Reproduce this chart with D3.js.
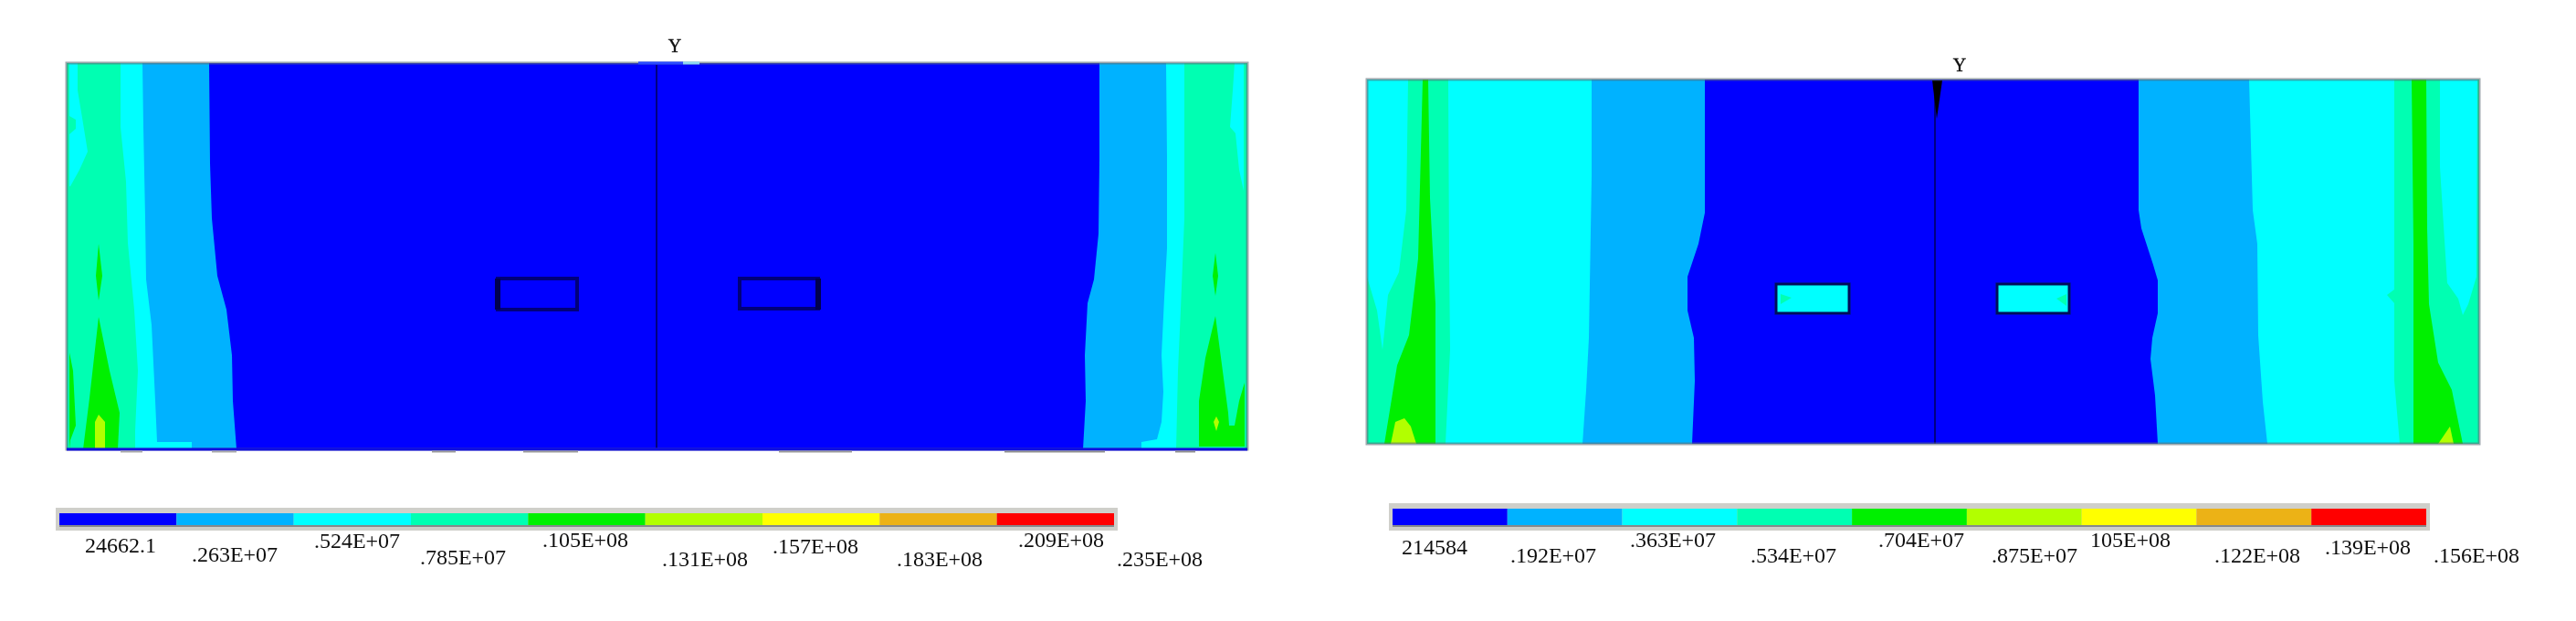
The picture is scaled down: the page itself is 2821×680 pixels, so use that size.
<!DOCTYPE html>
<html>
<head>
<meta charset="utf-8">
<style>
    html, body { margin: 0; padding: 0; background: #fff; }
    svg { display: block; }
    text { font-family: "Liberation Serif", serif; fill: #111; }
</style>
<script src="https://cdnjs.cloudflare.com/ajax/libs/d3/7.8.5/d3.min.js"></script>
</head>
<body>
<script>
// Contour levels, low to high
const levelColors = ['#0000ff', '#00b2ff', '#00ffff', '#00ffb2', '#00f000', '#b2ff00', '#ffff00', '#ecb212', '#ff0000'];
const levelsA = ['24662.1', '.263E+07', '.524E+07', '.785E+07', '.105E+08', '.131E+08', '.157E+08', '.183E+08', '.209E+08', '.235E+08'];
const levelsB = ['214584', '.192E+07', '.363E+07', '.534E+07', '.704E+07', '.875E+07', '105E+08', '.122E+08', '.139E+08', '.156E+08'];

// Contours, [along span, down from top] in model units
// Panel A, left side
const aLeftBlue = [[156, 0], [157, 110], [159, 170], [165, 233], [175, 270], [181, 320], [182, 370], [186, 423]];
const aLeftCyan = [[83, 0], [84, 70], [86, 170], [87, 237], [93, 287], [97, 370], [99, 415], [137, 415], [137, 423]];
const aLeftSpring = [[59, 0], [59, 70], [65, 130], [67, 197], [74, 270], [78, 337], [75, 403], [75, 423]];
const aLeftCyanSliver = [[3, 0], [12, 0], [12, 30], [17, 60], [23, 97], [14, 117], [4, 135], [3, 135]];
const aLeftSpringNotch = [[3, 58], [10, 62], [10, 72], [3, 78]];
const aLeftGreenEdge = [[3, 317], [7, 337], [10, 397], [4, 413], [3, 423]];
const aLeftGreenSliver = [[35, 198], [39, 233], [35, 260], [32, 233]];
const aLeftGreen = [[35, 278], [47, 337], [58, 383], [56, 423], [18, 423], [25, 367]];
const aLeftLime = [[35, 385], [42, 393], [42, 423], [31, 423], [31, 393]];
// Panel A, right side
const aRightBlue = [[1131, 0], [1131, 105], [1130, 187], [1125, 237], [1118, 263], [1115, 320], [1116, 370], [1113, 423]];
const aRightCyan = [[1204, 0], [1205, 103], [1205, 203], [1202, 257], [1199, 320], [1201, 360], [1199, 393], [1194, 412], [1177, 415], [1177, 423]];
const aRightSpring = [[1224, 0], [1224, 170], [1220, 270], [1217, 337], [1215, 423]];
const aRightCyanSliver = [[1279, 0], [1289, 0], [1289, 140], [1284, 117], [1280, 77], [1274, 70], [1277, 30]];
const aRightGreenSliver = [[1258, 208], [1261, 233], [1258, 255], [1255, 233]];
const aRightGreen = [[1258, 277], [1272, 383], [1273, 397], [1279, 397], [1284, 370], [1290, 350], [1290, 420], [1240, 420], [1240, 370], [1247, 323]];
const aRightLime = [[1259, 387], [1262, 393], [1259, 403], [1256, 393]];
// Panel B, left side
const bLeftBlue = [[370, 0], [370, 146], [363, 180], [351, 216], [351, 253], [358, 283], [359, 330], [356, 399]];
const bLeftCyan = [[246, 0], [246, 106], [243, 283], [240, 340], [236, 399]];
const bLeftSpring = [[89, 0], [90, 196], [91, 296], [86, 399]];
const bLeftCyanSliver = [[0, 0], [45, 0], [43, 143], [35, 211], [23, 236], [17, 296], [11, 253], [0, 216]];
const bLeftGreen = [[61, 0], [67, 0], [69, 130], [75, 246], [75, 399], [19, 399], [33, 313], [46, 280], [56, 196]];
const bLeftLime = [[26, 399], [31, 375], [41, 371], [48, 380], [54, 399]];
// Panel B, right side
const bRightBlue = [[845, 0], [845, 143], [848, 163], [861, 203], [866, 220], [866, 256], [860, 283], [858, 306], [863, 346], [866, 399]];
const bRightCyan = [[966, 0], [970, 143], [975, 180], [976, 280], [981, 353], [986, 399]];
const bRightSpring = [[1125, 0], [1125, 230], [1117, 236], [1125, 245], [1125, 330], [1131, 399]];
const bRightCyanSliver = [[1175, 0], [1216, 0], [1215, 216], [1206, 246], [1200, 258], [1195, 240], [1183, 223], [1180, 176], [1175, 96]];
const bRightGreen = [[1144, 0], [1160, 0], [1161, 163], [1163, 246], [1173, 310], [1188, 340], [1200, 399], [1146, 399], [1146, 180]];
const bRightLime = [[1173, 399], [1186, 380], [1190, 399]];
// Openings and centre line
const aOpenings = [[472, 236, 87, 34], [737, 236, 86, 33]];
const bOpenings = [[448, 224, 80, 32], [690, 224, 79, 32]];
const bOpeningGreen = [[[453, 235], [465, 239], [453, 246]], [[766, 235], [755, 240], [766, 248]]];
const bCentreWedge = [[619, 1], [630, 1], [624, 43]];
// Stray segments along the edges of panel A: [from, to, colour]
const aTopEdge = [[626, 675, '#2a4cff'], [675, 693, '#8fd8f0']];
const aBottomEdge = [[59, 83, '#a9a9a9'], [159, 186, '#a9a9a9'], [400, 426, '#9a9a9a'], [500, 560, '#9a9a9a'], [780, 860, '#9a9a9a'], [1027, 1137, '#8f8f8f'], [1214, 1236, '#8f8f8f']];

// Page layout
const W = 2821, H = 680;
const panelA = { x0: 73, x1: 1366, y0: 69, y1: 492, span: 1293, depth: 423, centre: 646, yLabel: [739, 57] };
const panelB = { x0: 1497, x1: 2715, y0: 87, y1: 486, span: 1218, depth: 399, centre: 622, yLabel: [2146, 78] };
const legendA = { x0: 65, x1: 1220, y0: 562, y1: 575, labelX: [132, 257, 391, 507, 641, 772, 893, 1029, 1162, 1270], labelY: [605, 615, 600, 618, 599, 620, 606, 620, 599, 620] };
const legendB = { x0: 1525, x1: 2657, y0: 557, y1: 575, labelX: [1571, 1701, 1832, 1964, 2104, 2228, 2333, 2472, 2593, 2712], labelY: [607, 616, 599, 616, 599, 616, 599, 616, 607, 616] };

const svg = d3.select('body')
    .append('svg')
    .attr('width', W)
    .attr('height', H);

// The source is a soft, upscaled bitmap
svg.append('defs')
    .append('filter')
    .attr('id', 'soft')
    .attr('filterUnits', 'userSpaceOnUse')
    .attr('x', 0).attr('y', 0).attr('width', W).attr('height', H)
    .append('feGaussianBlur')
    .attr('stdDeviation', 0.7);

const root = svg.append('g').attr('filter', 'url(#soft)');

function drawPanel(p, layers, openings) {
    const x = d3.scaleLinear().domain([0, p.span]).range([p.x0, p.x1]);
    const y = d3.scaleLinear().domain([0, p.depth]).range([p.y0, p.y1]);
    const line = d3.line().x(d => x(d[0])).y(d => y(d[1]));

    const group = root.append('g');

    // Lowest level covers the whole panel
    group.append('rect')
        .attr('x', x(0)).attr('y', y(0))
        .attr('width', x(p.span) - x(0))
        .attr('height', y(p.depth) - y(0))
        .attr('fill', levelColors[0]);

    group.selectAll('path.band')
        .data(layers)
        .enter()
        .append('path')
        .attr('class', 'band')
        .attr('d', d => line(d.points) + 'Z')
        .attr('fill', d => levelColors[d.level]);

    // Centre line
    group.append('line')
        .attr('x1', x(p.centre)).attr('x2', x(p.centre))
        .attr('y1', y(2)).attr('y2', y(p.depth))
        .attr('stroke', '#000080')
        .attr('stroke-width', 2);

    openings(group, x, y, line);

    // Frame
    group.append('rect')
        .attr('x', x(0)).attr('y', y(0))
        .attr('width', x(p.span) - x(0))
        .attr('height', y(p.depth) - y(0))
        .attr('fill', 'none')
        .attr('stroke', '#5f6f78')
        .attr('stroke-opacity', 0.6)
        .attr('stroke-width', 3);

    root.append('text')
        .attr('x', p.yLabel[0])
        .attr('y', p.yLabel[1])
        .attr('text-anchor', 'middle')
        .attr('font-size', 20)
        .attr('stroke', '#111')
        .attr('stroke-width', 0.4)
        .text('Y');

    return { x, y };
}

// Closes a contour against the left or right edge of a panel
function toEdge(contour, edge) {
    const first = contour[0], last = contour[contour.length - 1];
    return contour.concat([[edge, last[1]], [edge, first[1]]]);
}

const layersA = [
    { level: 1, points: toEdge(aLeftBlue, 0) },
    { level: 2, points: toEdge(aLeftCyan, 0) },
    { level: 3, points: toEdge(aLeftSpring, 0) },
    { level: 2, points: aLeftCyanSliver },
    { level: 3, points: aLeftSpringNotch },
    { level: 4, points: aLeftGreenEdge },
    { level: 4, points: aLeftGreenSliver },
    { level: 4, points: aLeftGreen },
    { level: 5, points: aLeftLime },
    { level: 1, points: toEdge(aRightBlue, panelA.span) },
    { level: 2, points: toEdge(aRightCyan, panelA.span) },
    { level: 3, points: toEdge(aRightSpring, panelA.span) },
    { level: 2, points: aRightCyanSliver },
    { level: 4, points: aRightGreenSliver },
    { level: 4, points: aRightGreen },
    { level: 5, points: aRightLime }
];

const layersB = [
    { level: 1, points: toEdge(bLeftBlue, 0) },
    { level: 2, points: toEdge(bLeftCyan, 0) },
    { level: 3, points: toEdge(bLeftSpring, 0) },
    { level: 2, points: bLeftCyanSliver },
    { level: 4, points: bLeftGreen },
    { level: 5, points: bLeftLime },
    { level: 1, points: toEdge(bRightBlue, panelB.span) },
    { level: 2, points: toEdge(bRightCyan, panelB.span) },
    { level: 3, points: toEdge(bRightSpring, panelB.span) },
    { level: 2, points: bRightCyanSliver },
    { level: 4, points: bRightGreen },
    { level: 5, points: bRightLime }
];

const scalesA = drawPanel(panelA, layersA, (group, x, y) => {
    group.selectAll('rect.opening')
        .data(aOpenings)
        .enter()
        .append('rect')
        .attr('class', 'opening')
        .attr('x', d => x(d[0])).attr('y', d => y(d[1]))
        .attr('width', d => x(d[2]) - x(0))
        .attr('height', d => y(d[3]) - y(0))
        .attr('fill', levelColors[0])
        .attr('stroke', '#00007a')
        .attr('stroke-width', 4);

    // The outer side of each opening is heavier
    group.selectAll('line.heavy')
        .data([aOpenings[0][0], aOpenings[1][0] + aOpenings[1][2]])
        .enter()
        .append('line')
        .attr('class', 'heavy')
        .attr('x1', d => x(d)).attr('x2', d => x(d))
        .attr('y1', y(aOpenings[0][1])).attr('y2', y(aOpenings[0][1] + aOpenings[0][3]))
        .attr('stroke', '#000050')
        .attr('stroke-width', 6);
});

// Bottom edge of panel A reads blue, with a few stray pieces on both edges
root.append('line')
    .attr('x1', scalesA.x(0)).attr('x2', scalesA.x(panelA.span))
    .attr('y1', scalesA.y(panelA.depth)).attr('y2', scalesA.y(panelA.depth))
    .attr('stroke', '#1010e0')
    .attr('stroke-width', 3);

root.selectAll('line.bottom-edge')
    .data(aBottomEdge)
    .enter()
    .append('line')
    .attr('class', 'bottom-edge')
    .attr('x1', d => scalesA.x(d[0])).attr('x2', d => scalesA.x(d[1]))
    .attr('y1', scalesA.y(panelA.depth) + 2.5).attr('y2', scalesA.y(panelA.depth) + 2.5)
    .attr('stroke', d => d[2])
    .attr('stroke-width', 2);

root.selectAll('line.top-edge')
    .data(aTopEdge)
    .enter()
    .append('line')
    .attr('class', 'top-edge')
    .attr('x1', d => scalesA.x(d[0])).attr('x2', d => scalesA.x(d[1]))
    .attr('y1', scalesA.y(0)).attr('y2', scalesA.y(0))
    .attr('stroke', d => d[2])
    .attr('stroke-width', 3);

drawPanel(panelB, layersB, (group, x, y, line) => {
    group.selectAll('rect.opening')
        .data(bOpenings)
        .enter()
        .append('rect')
        .attr('class', 'opening')
        .attr('x', d => x(d[0])).attr('y', d => y(d[1]))
        .attr('width', d => x(d[2]) - x(0))
        .attr('height', d => y(d[3]) - y(0))
        .attr('fill', levelColors[2])
        .attr('stroke', '#00105a')
        .attr('stroke-width', 3);

    group.selectAll('path.patch')
        .data(bOpeningGreen)
        .enter()
        .append('path')
        .attr('class', 'patch')
        .attr('d', d => line(d) + 'Z')
        .attr('fill', levelColors[3]);

    group.append('path')
        .attr('d', line(bCentreWedge) + 'Z')
        .attr('fill', '#000');
});

function drawLegend(l, labels) {
    const x = d3.scaleLinear().domain([0, levelColors.length]).range([l.x0, l.x1]);

    // Grey plate behind the colour bar
    root.append('rect')
        .attr('x', l.x0 - 4).attr('y', l.y0 - 6)
        .attr('width', l.x1 - l.x0 + 8)
        .attr('height', l.y1 - l.y0 + 12)
        .attr('fill', '#cfcfca');

    root.selectAll(null)
        .data(levelColors)
        .enter()
        .append('rect')
        .attr('x', (d, i) => x(i))
        .attr('y', l.y0)
        .attr('width', (d, i) => x(i + 1) - x(i))
        .attr('height', l.y1 - l.y0)
        .attr('fill', d => d);

    root.append('line')
        .attr('x1', l.x0).attr('x2', l.x1)
        .attr('y1', l.y1 + 1).attr('y2', l.y1 + 1)
        .attr('stroke', '#555a60')
        .attr('stroke-opacity', 0.6)
        .attr('stroke-width', 2);

    root.selectAll(null)
        .data(labels)
        .enter()
        .append('text')
        .attr('x', (d, i) => l.labelX[i])
        .attr('y', (d, i) => l.labelY[i])
        .attr('text-anchor', 'middle')
        .attr('font-size', 24)
        .text(d => d);
}

drawLegend(legendA, levelsA);
drawLegend(legendB, levelsB);
</script>
</body>
</html>
